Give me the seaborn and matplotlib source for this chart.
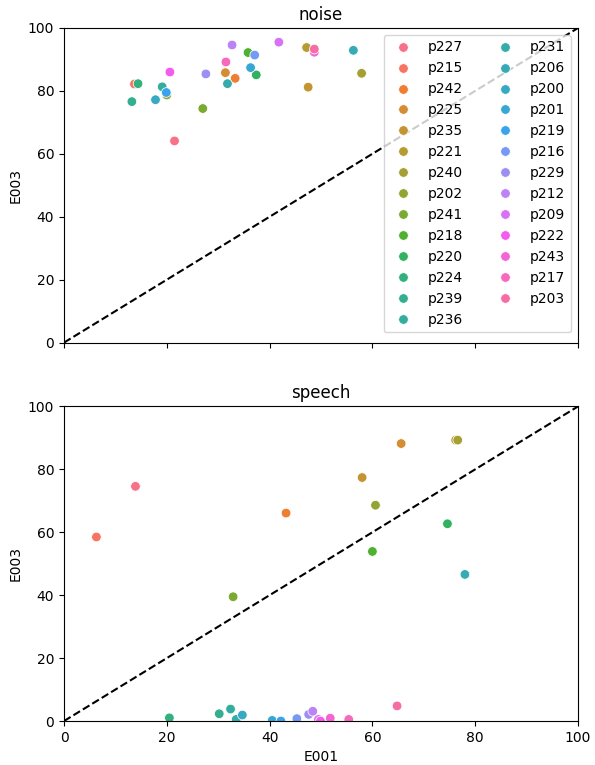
import matplotlib
matplotlib.use("Agg")
import matplotlib.pyplot as plt
import seaborn as sns
import pandas as pd

speakers = ["p227", "p215", "p242", "p225", "p235", "p221", "p240", "p202", "p241",
            "p218", "p220", "p224", "p239", "p236", "p231", "p206", "p200", "p201",
            "p219", "p216", "p229", "p212", "p209", "p222", "p243", "p217", "p203"]

noise_e001 = [21.5, 13.7, 33.3, 31.4, 47.5, 47.2, 57.9, 20.0, 27.0,
              35.8, 37.4, 14.4, 13.2, 19.1, 31.8, 56.3, 17.8, 36.3,
              19.9, 37.1, 27.6, 32.7, 41.8, 20.6, 48.7, 31.5, 48.7]
noise_e003 = [64.1, 82.2, 84.0, 85.8, 81.2, 93.8, 85.6, 78.7, 74.4,
              92.2, 85.1, 82.3, 76.6, 81.3, 82.3, 92.9, 77.2, 87.4,
              79.5, 91.4, 85.4, 94.6, 95.5, 86.0, 92.3, 89.2, 93.3]

speech_e001 = [13.9, 6.3, 43.2, 65.6, 58.0, 76.2, 76.6, 60.6, 32.9,
               60.0, 74.6, 20.5, 30.2, 32.4, 33.5, 78.0, 34.7, 40.5,
               42.2, 45.3, 47.6, 48.4, 49.5, 49.9, 51.8, 55.4, 64.8]
speech_e003 = [74.6, 58.5, 66.1, 88.2, 77.4, 89.3, 89.3, 68.6, 39.5,
               53.9, 62.7, 1.0, 2.3, 3.8, 0.5, 46.6, 1.9, 0.2,
               0.0, 0.75, 2.1, 3.1, 0.5, 0.0, 0.9, 0.5, 4.8]

conditions = ["noise", "speech"]

df = pd.concat([
    pd.DataFrame({"speaker": speakers, "E001": noise_e001, "E003": noise_e003, "condition": "noise"}),
    pd.DataFrame({"speaker": speakers, "E001": speech_e001, "E003": speech_e003, "condition": "speech"}),
], ignore_index=True)

fig, axes = plt.subplots(2, 1, figsize=(5.95, 7.65), dpi=100, sharex=True)
fig.subplots_adjust(left=0.1076, right=0.9714, top=0.9634, bottom=0.0575, hspace=0.203)

for i, (ax, cond) in enumerate(zip(axes, conditions)):
    sub = df[df["condition"] == cond]
    sns.scatterplot(data=sub, x="E001", y="E003", hue="speaker", hue_order=speakers,
                    ax=ax, legend=(i == 0), s=48)
    ax.plot([0, 100], [0, 100], color="black", linestyle="--", zorder=0.5)
    ax.set_xlim(0, 100)
    ax.set_ylim(0, 100)
    ax.set_title(cond)
    ax.set_ylabel("E003")
    if i == 0:
        ax.set_xlabel("")
        ax.legend(ncol=2, loc="upper right", title=None)

axes[1].set_xlabel("E001")
fig.savefig("out.png", dpi=100)
